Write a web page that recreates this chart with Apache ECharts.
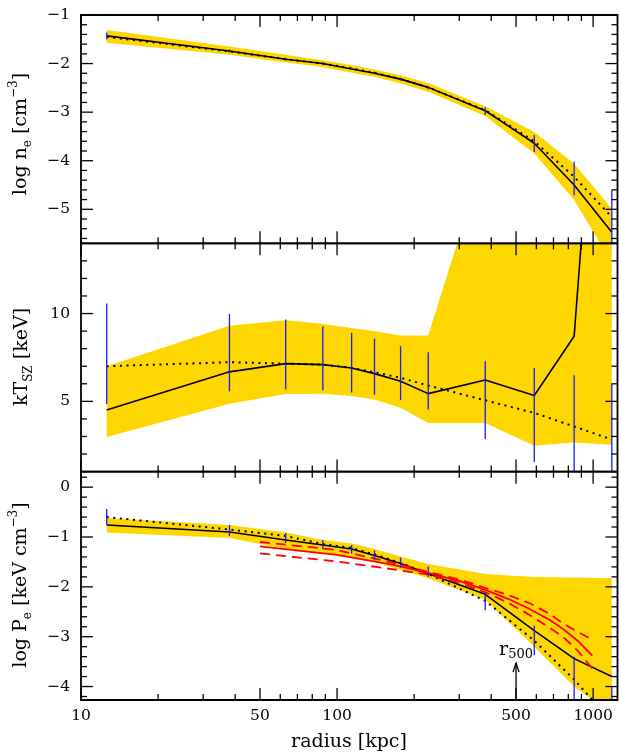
<!DOCTYPE html>
<html>
<head>
<meta charset="utf-8">
<script src="https://cdn.jsdelivr.net/npm/echarts@6/dist/echarts.min.js"></script>
<style>
  html, body { margin: 0; padding: 0; background: #fff; }
  #chart { width: 619px; height: 754px; }
</style>
</head>
<body>
<div id="chart"></div>
<script>
// Radii of the profile bins (kpc)
const radius = [12.6, 38, 63, 88, 114, 140, 177, 227, 379, 589, 843, 1183];

// Electron density, log n_e [cm^-3]
const neProfile = [-1.43, -1.74, -1.91, -2.00, -2.11, -2.20, -2.32, -2.49, -2.97, -3.64, -4.50, -5.47];
const neModel   = [-1.45, -1.75, -1.91, -2.00, -2.10, -2.19, -2.32, -2.49, -2.96, -3.60, -4.33, -5.16];
const neBandHi  = [-1.31, -1.65, -1.82, -1.93, -2.03, -2.12, -2.24, -2.40, -2.88, -3.41, -4.06, -4.99];
const neBandLo  = [-1.57, -1.82, -1.98, -2.07, -2.19, -2.27, -2.41, -2.58, -3.08, -3.85, -4.81, -6.10];
const neErrHi   = [-1.36, -1.71, -1.88, -1.98, -2.08, -2.17, -2.29, -2.46, -2.90, -3.47, -4.02, -4.61];
const neErrLo   = [-1.50, -1.77, -1.94, -2.03, -2.13, -2.22, -2.35, -2.53, -3.06, -3.82, -4.71, -6.00];

// SZ temperature, kT [keV]
const tProfile = [4.51, 6.68, 7.15, 7.09, 6.90, 6.58, 6.15, 5.44, 6.22, 5.33, 8.71, 37.0];
const tModel   = [7.00, 7.23, 7.15, 7.09, 6.90, 6.66, 6.34, 5.90, 5.06, 4.34, 3.57, 2.82];
const tBandHi  = [7.00, 9.30, 9.62, 9.41, 9.18, 8.99, 8.75, 8.75, 19.1, 30.0, 30.0, 30.0];
const tBandLo  = [2.97, 4.87, 5.42, 5.44, 5.30, 5.11, 4.63, 3.77, 3.77, 2.47, 2.66, 2.53];
const tErrHi   = [10.57, 9.98, 9.66, 9.28, 8.90, 8.56, 8.14, 7.80, 7.28, 6.90, 6.48, 6.00];
const tErrLo   = [4.85, 5.57, 5.67, 5.63, 5.51, 5.38, 5.07, 4.54, 2.86, 1.54, 0.50, 0.50];

// Electron pressure, log P_e [keV cm^-3]
const pProfile = [-0.76, -0.90, -1.06, -1.16, -1.24, -1.37, -1.53, -1.73, -2.15, -2.88, -3.44, -3.80];
const pModel   = [-0.60, -0.85, -0.98, -1.14, -1.22, -1.35, -1.52, -1.74, -2.28, -3.08, -3.86, -4.70];
const pBandHi  = [-0.62, -0.76, -0.91, -1.06, -1.13, -1.24, -1.39, -1.54, -1.74, -1.80, -1.81, -1.83];
const pBandLo  = [-0.91, -1.02, -1.24, -1.33, -1.41, -1.50, -1.66, -1.83, -2.26, -3.20, -4.00, -4.55];
const pErrHi   = [-0.44, -0.76, -0.92, -1.06, -1.16, -1.27, -1.41, -1.59, -2.12, -2.78, -3.40, -4.00];
const pErrLo   = [-0.76, -0.98, -1.12, -1.25, -1.33, -1.47, -1.61, -1.80, -2.47, -3.37, -4.60, -4.60];

// SZ pressure model: best fit and its range
const pSzRadius = [50, 100, 166, 230, 300, 384, 470, 567, 680, 766, 870, 993];
const pSzMid = [-1.19, -1.36, -1.56, -1.73, -1.88, -2.07, -2.25, -2.45, -2.67, -2.85, -3.08, -3.38];
const pSzHi  = [-1.10, -1.26, -1.52, -1.71, -1.85, -2.03, -2.17, -2.33, -2.55, -2.74, -2.90, -3.06];
const pSzLo  = [-1.33, -1.49, -1.65, -1.76, -1.92, -2.12, -2.33, -2.57, -2.83, -3.01, -3.28, -3.64];

// r500 marker
const r500 = 500;

// Axis ticks
const xMajorTicks = [10, 50, 100, 500, 1000];
const xTickLabels = ['10', '50', '100', '500', '1000'];
const xMinorTicks = [20, 30, 40, 60, 70, 80, 90, 200, 300, 400, 600, 700, 800, 900];
const neTicks = [-5, -4, -3, -2, -1];
const neTickLabels = ['\u22125', '\u22124', '\u22123', '\u22122', '\u22121'];
const tTicks = [5, 10];
const tTickLabels = ['5', '10'];
const pTicks = [-4, -3, -2, -1, 0];
const pTickLabels = ['\u22124', '\u22123', '\u22122', '\u22121', '0'];

const FONT = '"DejaVu Serif", "Liberation Serif", serif';
const GOLD = '#FFD700';
const BLUE = '#1a1aff';
const X_MIN = 10, X_MAX = 1245;

const panels = [
  { yMin: -5.7, yMax: -1, major: neTicks, labels: neTickLabels, minorStep: 0.2, xLabels: false },
  { yMin: 1, yMax: 14, major: tTicks, labels: tTickLabels, minorStep: 1, xLabels: false },
  { yMin: -4.27, yMax: 0.31, major: pTicks, labels: pTickLabels, minorStep: 0.2, xLabels: true }
];
const gridTops = [15, 243.3, 471.7];
const gridHeight = 228.3;

function minorValues(p) {
  const out = [];
  const start = Math.ceil(p.yMin / p.minorStep - 1e-9);
  const end = Math.floor(p.yMax / p.minorStep + 1e-9);
  for (let k = start; k <= end; k++) {
    const v = +(k * p.minorStep).toFixed(4);
    if (!p.major.some(m => Math.abs(m - v) < 1e-6)) out.push(v);
  }
  return out;
}

// Frame, inward ticks on all four sides, and tick labels
function frameRenderer(p) {
  const minors = minorValues(p);
  return function (params, api) {
    if (params.dataIndex !== 0) return null;
    const cs = params.coordSys;
    const x0 = cs.x, x1 = cs.x + cs.width, y0 = cs.y, y1 = cs.y + cs.height;
    const kids = [];
    const seg = (a, b, c, d) => kids.push({
      type: 'line', shape: { x1: a, y1: b, x2: c, y2: d },
      style: { stroke: '#000', lineWidth: 1.3 }
    });
    xMajorTicks.forEach(v => { const x = api.coord([v, p.yMin])[0]; seg(x, y1, x, y1 - 12); seg(x, y0, x, y0 + 12); });
    xMinorTicks.forEach(v => { const x = api.coord([v, p.yMin])[0]; seg(x, y1, x, y1 - 6); seg(x, y0, x, y0 + 6); });
    p.major.forEach((v, i) => {
      const y = api.coord([X_MIN, v])[1];
      seg(x0, y, x0 + 12, y); seg(x1, y, x1 - 12, y);
      kids.push({
        type: 'text',
        style: { text: p.labels[i], x: x0 - 11, y: y, align: 'right', verticalAlign: 'middle',
                 textAlign: 'right', textVerticalAlign: 'middle', font: '15.5px ' + FONT, fill: '#000' }
      });
    });
    minors.forEach(v => { const y = api.coord([X_MIN, v])[1]; seg(x0, y, x0 + 6, y); seg(x1, y, x1 - 6, y); });
    if (p.xLabels) {
      xMajorTicks.forEach((v, i) => {
        const x = api.coord([v, p.yMin])[0];
        kids.push({
          type: 'text',
          style: { text: xTickLabels[i], x: x, y: y1 + 8, align: 'center', verticalAlign: 'top',
                   textAlign: 'center', textVerticalAlign: 'top', font: '15.5px ' + FONT, fill: '#000' }
        });
      });
    }
    kids.push({
      type: 'rect', shape: { x: x0, y: y0, width: cs.width, height: cs.height },
      style: { fill: null, stroke: '#000', lineWidth: 1.8 }
    });
    return { type: 'group', children: kids };
  };
}

// Filled uncertainty band between two profiles
function bandRenderer(hi, lo) {
  return function (params, api) {
    if (params.dataIndex !== 0) return null;
    const pts = [];
    radius.forEach((r, i) => pts.push(api.coord([r, hi[i]])));
    for (let i = radius.length - 1; i >= 0; i--) pts.push(api.coord([radius[i], lo[i]]));
    return { type: 'polygon', shape: { points: pts }, style: { fill: GOLD } };
  };
}

// Vertical error bar
function errorBarRenderer(params, api) {
  const cs = params.coordSys;
  const a = api.coord([api.value(0), api.value(1)]);
  const b = api.coord([api.value(0), api.value(2)]);
  const top = cs.y, bot = cs.y + cs.height;
  const ya = Math.min(Math.max(a[1], top), bot);
  const yb = Math.min(Math.max(b[1], top), bot);
  return { type: 'line', shape: { x1: a[0], y1: ya, x2: b[0], y2: yb },
           style: { stroke: BLUE, lineWidth: 1.3 } };
}

function pairs(xs, ys) { return xs.map((x, i) => [x, ys[i]]); }

const series = [];
function addPanel(idx, bandHi, bandLo, model, profile, errLo, errHi) {
  series.push({
    type: 'custom', xAxisIndex: idx, yAxisIndex: idx, clip: true, z: 1, silent: true,
    renderItem: bandRenderer(bandHi, bandLo),
    data: radius.map((r, i) => [r, bandLo[i], bandHi[i]])
  });
  series.push({
    type: 'line', xAxisIndex: idx, yAxisIndex: idx, data: pairs(radius, model), z: 3,
    symbol: 'none', silent: true, clip: true,
    lineStyle: { color: '#000', width: 2, type: [2, 4.6] }
  });
  series.push({
    type: 'line', xAxisIndex: idx, yAxisIndex: idx, data: pairs(radius, profile), z: 4,
    symbol: 'none', silent: true, clip: true,
    lineStyle: { color: '#000', width: 1.6 }
  });
  series.push({
    type: 'custom', xAxisIndex: idx, yAxisIndex: idx, clip: true, z: 6, silent: true,
    renderItem: errorBarRenderer,
    encode: { x: 0, y: [1, 2] },
    data: radius.map((r, i) => [r, errLo[i], errHi[i]])
  });
}
addPanel(0, neBandHi, neBandLo, neModel, neProfile, neErrLo, neErrHi);
addPanel(1, tBandHi, tBandLo, tModel, tProfile, tErrLo, tErrHi);
addPanel(2, pBandHi, pBandLo, pModel, pProfile, pErrLo, pErrHi);

// SZ pressure model curves
[[pSzHi, 'dashed'], [pSzMid, 'solid'], [pSzLo, 'dashed']].forEach(([vals, kind]) => {
  series.push({
    type: 'line', xAxisIndex: 2, yAxisIndex: 2, data: pairs(pSzRadius, vals), z: 5,
    symbol: 'none', silent: true, clip: true,
    lineStyle: { color: '#ff0000', width: 1.8, type: kind === 'dashed' ? [10, 6] : 'solid' }
  });
});

// r500 arrow with its label
series.push({
  type: 'custom', xAxisIndex: 2, yAxisIndex: 2, clip: false, z: 8, silent: true,
  data: [[r500, -3.53]],
  renderItem: function (params, api) {
    const tip = api.coord([api.value(0), api.value(1)]);
    const base = api.coord([api.value(0), panels[2].yMin]);
    const lab = api.coord([api.value(0), -3.27]);
    return {
      type: 'group', children: [
        { type: 'line', shape: { x1: base[0], y1: base[1], x2: tip[0], y2: tip[1] }, style: { stroke: '#000', lineWidth: 1.3 } },
        { type: 'polyline', shape: { points: [[tip[0] - 3, tip[1] + 9], [tip[0], tip[1]], [tip[0] + 3, tip[1] + 9]] },
          style: { stroke: '#000', lineWidth: 1.3, fill: null } },
        { type: 'text', style: {
            x: lab[0], y: lab[1], align: 'center', verticalAlign: 'middle', textAlign: 'center', textVerticalAlign: 'middle',
            text: '{r|r}{s|500}',
            rich: { r: { fontSize: 19, fontFamily: FONT, lineHeight: 22, fill: '#000' },
                    s: { fontSize: 13, fontFamily: FONT, lineHeight: 12, verticalAlign: 'bottom', fill: '#000' } }
        } }
      ]
    };
  }
});

// Frames and ticks on top of everything
panels.forEach((p, idx) => {
  series.push({
    type: 'custom', xAxisIndex: idx, yAxisIndex: idx, clip: false, z: 10, silent: true,
    data: [[X_MIN, p.yMin]], renderItem: frameRenderer(p)
  });
});

const titleRich = {
  m: { fontSize: 19, fontFamily: FONT, lineHeight: 26, fill: '#000' },
  sub: { fontSize: 12, fontFamily: FONT, lineHeight: 13, verticalAlign: 'bottom', fill: '#000' },
  sup: { fontSize: 12, fontFamily: FONT, lineHeight: 13, verticalAlign: 'top', fill: '#000' }
};
function yTitle(text, x, y) {
  return {
    type: 'text', x: x, y: y, rotation: Math.PI / 2,
    style: { text: text, rich: titleRich, align: 'center', verticalAlign: 'middle',
             textAlign: 'center', textVerticalAlign: 'middle' }
  };
}

const option = {
  animation: false,
  backgroundColor: '#fff',
  grid: gridTops.map(t => ({ left: 81, top: t, width: 536.5, height: gridHeight, containLabel: false })),
  xAxis: gridTops.map((t, i) => ({
    type: 'log', logBase: 10, gridIndex: i, min: X_MIN, max: X_MAX,
    axisLine: { show: false }, axisTick: { show: false }, axisLabel: { show: false }, splitLine: { show: false }
  })),
  yAxis: panels.map((p, i) => ({
    type: 'value', gridIndex: i, min: p.yMin, max: p.yMax,
    axisLine: { show: false }, axisTick: { show: false }, axisLabel: { show: false }, splitLine: { show: false }
  })),
  series: series,
  graphic: [
    yTitle('{m|log n}{sub|e}{m| [cm}{sup|\u22123}{m|]}', 21, 134),
    yTitle('{m|kT}{sub|SZ}{m| [keV]}', 22, 357),
    yTitle('{m|log P}{sub|e}{m| [keV cm}{sup|\u22123}{m|]}', 21, 585),
    { type: 'text', x: 349, y: 742,
      style: { text: 'radius [kpc]', font: '19px ' + FONT, fill: '#000', align: 'center', verticalAlign: 'middle',
               textAlign: 'center', textVerticalAlign: 'middle' } }
  ]
};

const chart = echarts.init(document.getElementById('chart'), null, { renderer: 'canvas' });
chart.setOption(option);
</script>
</body>
</html>
